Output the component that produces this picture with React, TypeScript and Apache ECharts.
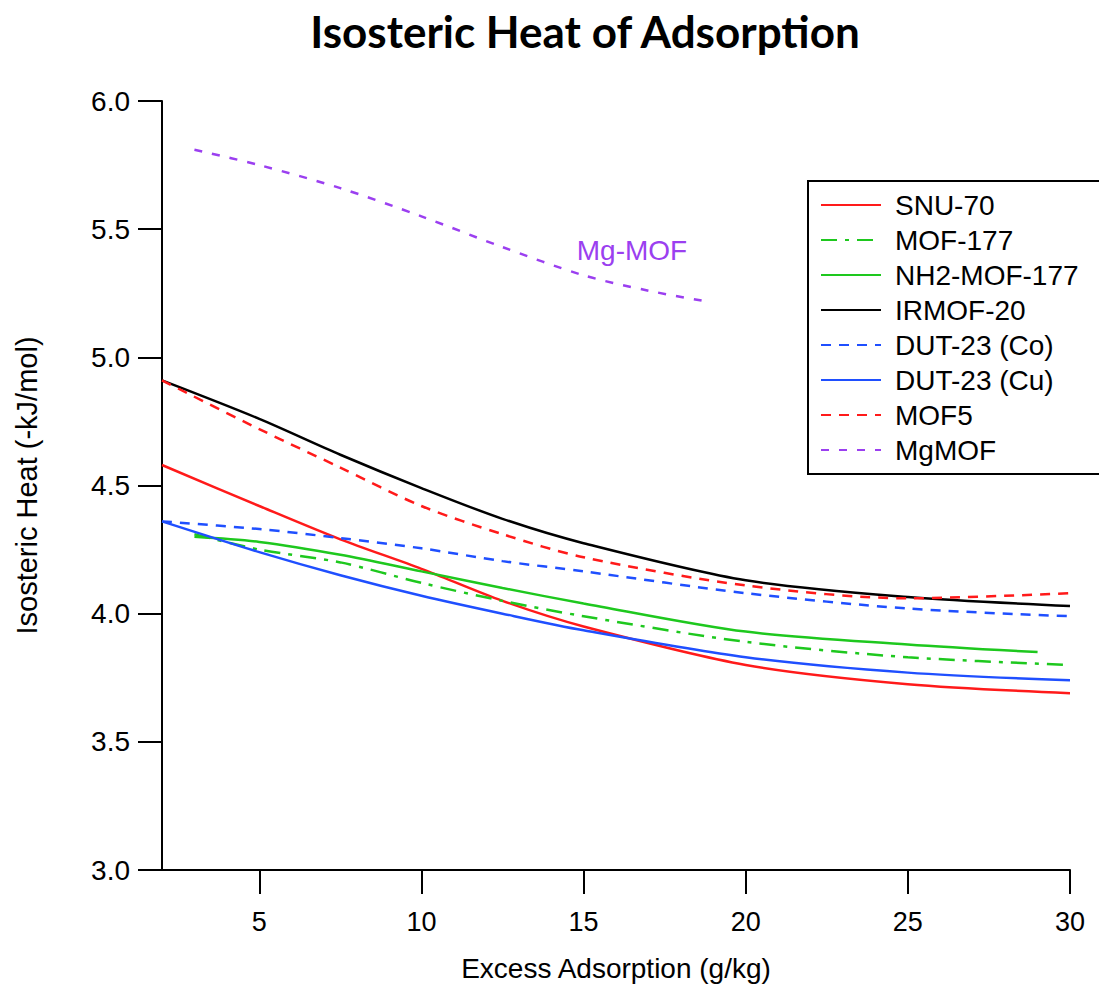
import React, { useEffect, useRef } from "react";
import * as echarts from "echarts";

const xTicks = [5, 10, 15, 20, 25, 30];
const yTicks = [3.0, 3.5, 4.0, 4.5, 5.0, 5.5, 6.0];

const xMain = [2, 5, 7.5, 10, 12.5, 15, 20, 25, 30];
const snu70 = [4.58, 4.42, 4.29, 4.175, 4.05, 3.95, 3.8, 3.725, 3.69];
const irmof20 = [4.91, 4.76, 4.62, 4.49, 4.37, 4.275, 4.13, 4.065, 4.03];
const mof5 = [4.91, 4.72, 4.57, 4.42, 4.31, 4.22, 4.11, 4.06, 4.08];
const dutCo = [4.36, 4.33, 4.295, 4.255, 4.205, 4.165, 4.08, 4.02, 3.99];
const dutCu = [4.36, 4.24, 4.15, 4.07, 4.0, 3.935, 3.83, 3.77, 3.74];

const mof177X = [3, 5, 7.5, 10, 12.5, 15, 20, 25, 30];
const mof177 = [4.31, 4.25, 4.2, 4.12, 4.05, 3.99, 3.89, 3.83, 3.8];

const nh2X = [3, 5, 7.5, 10, 12.5, 15, 20, 25, 29];
const nh2mof177 = [4.3, 4.28, 4.23, 4.165, 4.1, 4.04, 3.93, 3.88, 3.85];

const mgX = [3, 5, 7.5, 10, 12.5, 15, 17, 18.7];
const mgmof = [5.81, 5.75, 5.66, 5.55, 5.43, 5.32, 5.26, 5.22];

const RED = "#ff1a1a";
const GREEN = "#1ec81e";
const BLUE = "#1f4fff";
const PURPLE = "#9b3ff0";

const pair = (xs: number[], ys: number[]) => xs.map((x, i) => [x, ys[i]]);

export default function App() {
  const ref = useRef<HTMLDivElement>(null);
  useEffect(() => {
    if (!ref.current) return;
    const chart = echarts.init(ref.current, undefined, { renderer: "svg" });
    const mk = (name: string, data: number[][], color: string, type: any) => ({
      name,
      type: "line",
      data,
      smooth: 0.3,
      symbol: "none",
      showSymbol: false,
      lineStyle: { color, width: 2.5, type },
      itemStyle: { color },
    });
    chart.setOption({
      animation: false,
      backgroundColor: "#ffffff",
      grid: { left: 162, right: 29, top: 101, bottom: 115, containLabel: false },
      xAxis: {
        type: "value",
        min: 2,
        max: 30,
        name: "Excess Adsorption (g/kg)",
        nameLocation: "middle",
        nameGap: 84,
        nameTextStyle: { fontFamily: "Liberation Sans", fontSize: 28, color: "#000" },
        axisLine: { show: true, lineStyle: { color: "#000", width: 2 } },
        axisTick: { show: true, length: 24, lineStyle: { color: "#000", width: 2 }, customValues: xTicks },
        axisLabel: { fontFamily: "Liberation Sans", fontSize: 27, color: "#000", margin: 38, customValues: xTicks },
        splitLine: { show: false },
      },
      yAxis: {
        type: "value",
        min: 3,
        max: 6,
        interval: 0.5,
        name: "Isosteric Heat (-kJ/mol)",
        nameLocation: "middle",
        nameGap: 121,
        nameTextStyle: { fontFamily: "Liberation Sans", fontSize: 29, color: "#000" },
        axisLine: { show: true, lineStyle: { color: "#000", width: 2 } },
        axisTick: { show: true, length: 24, lineStyle: { color: "#000", width: 2 } },
        axisLabel: {
          fontFamily: "Liberation Sans",
          fontSize: 28,
          color: "#000",
          margin: 32,
          formatter: (v: number) => v.toFixed(1),
        },
        splitLine: { show: false },
      },
      legend: {
        orient: "vertical",
        left: 808,
        top: 181,
        padding: [10, 23, 10, 12],
        borderColor: "#000",
        borderWidth: 2,
        itemWidth: 60,
        itemHeight: 14,
        itemGap: 7,
        itemStyle: { color: "rgba(0,0,0,0)", borderWidth: 0, opacity: 0 },
        textStyle: {
          fontFamily: "Liberation Sans",
          fontSize: 28,
          lineHeight: 27,
          color: "#000",
          padding: [0, 0, 0, 9],
        },
        data: ["SNU-70", "MOF-177", "NH2-MOF-177", "IRMOF-20", "DUT-23 (Co)", "DUT-23 (Cu)", "MOF5", "MgMOF"],
      },
      graphic: [
        {
          type: "text",
          x: 585,
          y: 31,
          style: {
            text: "Isosteric Heat of Adsorption",
            fontFamily: "Lato",
            fontWeight: "bold",
            fontSize: 44,
            fill: "#000",
            align: "center",
            verticalAlign: "middle",
          },
        },
        {
          type: "text",
          x: 632,
          y: 250,
          style: {
            text: "Mg-MOF",
            fontFamily: "Liberation Sans",
            fontSize: 28,
            fill: PURPLE,
            align: "center",
            verticalAlign: "middle",
          },
        },
      ],
      series: [
        mk("SNU-70", pair(xMain, snu70), RED, "solid"),
        mk("MOF-177", pair(mof177X, mof177), GREEN, [16, 8, 4, 8]),
        mk("NH2-MOF-177", pair(nh2X, nh2mof177), GREEN, "solid"),
        mk("IRMOF-20", pair(xMain, irmof20), "#000000", "solid"),
        mk("DUT-23 (Co)", pair(xMain, dutCo), BLUE, [10, 8]),
        mk("DUT-23 (Cu)", pair(xMain, dutCu), BLUE, "solid"),
        mk("MOF5", pair(xMain, mof5), RED, [10, 8]),
        mk("MgMOF", pair(mgX, mgmof), PURPLE, [8, 10]),
      ],
    });
    return () => chart.dispose();
  }, []);
  return (
    <div
      ref={ref}
      style={{ position: "absolute", left: 0, top: 0, width: 1099, height: 987 }}
    />
  );
}
